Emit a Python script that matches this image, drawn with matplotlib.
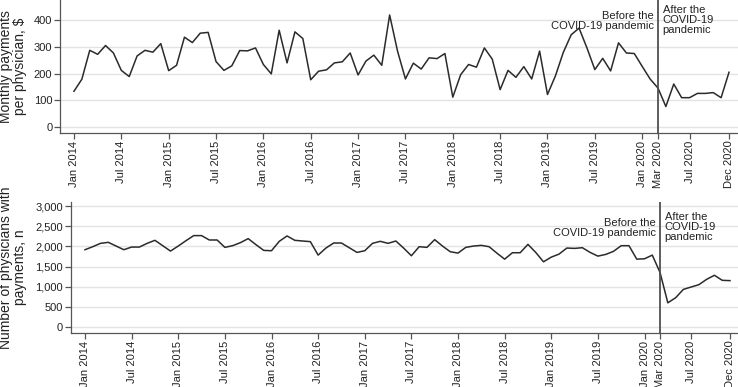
import matplotlib
matplotlib.use("Agg")
import matplotlib.pyplot as plt

plt.rcParams['font.family'] = ['Liberation Sans', 'DejaVu Sans']

# monthly values, Jan 2014 .. Dec 2020
payments = [134, 179, 287, 272, 305, 277, 212, 189, 266, 287, 280, 312,
            211, 231, 336, 316, 351, 354, 245, 212, 229, 286, 285, 296,
            234, 199, 362, 240, 356, 331, 177, 209, 214, 240, 244, 277,
            195, 247, 269, 231, 419, 284, 180, 239, 217, 259, 256, 275,
            112, 196, 234, 224, 296, 254, 140, 212, 186, 226, 180, 284,
            122, 191, 279, 345, 370, 296, 215, 257, 210, 315, 277, 275,
            227, 180, 146, 77, 161, 110, 110, 126, 126, 129, 110, 205]

physicians = [1917, 1992, 2075, 2100, 2008, 1917, 1983, 1983, 2075, 2150, 2017, 1883,
              2008, 2142, 2267, 2267, 2158, 2158, 1975, 2017, 2092, 2192, 2042, 1900,
              1892, 2125, 2258, 2150, 2133, 2117, 1783, 1958, 2083, 2083, 1967, 1850,
              1892, 2075, 2125, 2075, 2133, 1958, 1767, 1992, 1975, 2167, 2008, 1867,
              1833, 1975, 2008, 2025, 1992, 1833, 1683, 1842, 1842, 2050, 1850, 1617,
              1733, 1808, 1958, 1950, 1967, 1850, 1758, 1800, 1875, 2017, 2017, 1683,
              1692, 1783, 1350, 600, 725, 933, 992, 1050, 1183, 1283, 1158, 1150]

months = list(range(len(payments)))

tick_pos = [0, 6, 12, 18, 24, 30, 36, 42, 48, 54, 60, 66, 72, 74, 78, 83]
tick_labels = ["Jan 2014", "Jul 2014", "Jan 2015", "Jul 2015", "Jan 2016", "Jul 2016",
               "Jan 2017", "Jul 2017", "Jan 2018", "Jul 2018", "Jan 2019", "Jul 2019",
               "Jan 2020", "Mar 2020", "Jul 2020", "Dec 2020"]
covid_start = 74

fig = plt.figure(figsize=(7.38, 3.87), dpi=100)
ax1 = fig.add_axes([0.0813, 0.6563, 0.9187, 0.3437])
ax2 = fig.add_axes([0.0958, 0.1395, 0.9042, 0.3385])

line_col = "#2b2b2b"
spine_col = "#555555"
text_col = "#222222"

panels = [
    (ax1, payments, [0, 100, 200, 300, 400], (-22, 475), (-1.77, 84.14),
     "Monthly payments\nper physician, $", -0.049, 0.915, 0.96),
    (ax2, physicians, [0, 500, 1000, 1500, 2000, 2500, 3000], (-149, 3100), (-1.84, 84.03),
     "Number of physicians with\npayments, n", -0.065, 0.875, 0.92),
]

for ax, values, yticks, ylim, xlim, ylabel, lab_x, before_y, after_y in panels:
    ax.plot(months, values, color=line_col, lw=1.1, zorder=3)
    ax.axvline(covid_start, color="#505050", lw=1.3, zorder=4)
    ax.set_xlim(*xlim)
    ax.set_ylim(*ylim)
    ax.set_yticks(yticks)
    ax.set_yticklabels([f"{v:,}" for v in yticks])
    ax.set_xticks(tick_pos)
    ax.set_xticklabels(tick_labels, rotation=90)
    ax.grid(axis="y", color="#e3e3e3", lw=1.0, zorder=0)
    ax.set_axisbelow(True)
    for s in ["top", "right"]:
        ax.spines[s].set_visible(False)
    for s in ["left", "bottom"]:
        ax.spines[s].set_color(spine_col)
        ax.spines[s].set_linewidth(0.9)
    ax.tick_params(axis="both", direction="out", length=4, width=0.9, color=spine_col,
                   labelsize=8, labelcolor=text_col, pad=1.5)
    ax.set_ylabel(ylabel, fontsize=10, color=text_col, linespacing=1.0)
    ax.yaxis.set_label_coords(lab_x, 0.5)

    ax.text(covid_start - 0.5, before_y, "Before the\nCOVID-19 pandemic", transform=ax.get_xaxis_transform(),
            ha="right", va="top", fontsize=8, color=text_col, linespacing=0.95)
    ax.text(covid_start + 0.6, after_y, "After the\nCOVID-19\npandemic", transform=ax.get_xaxis_transform(),
            ha="left", va="top", fontsize=8, color=text_col, linespacing=0.95)

fig.savefig("out.png", dpi=100)
